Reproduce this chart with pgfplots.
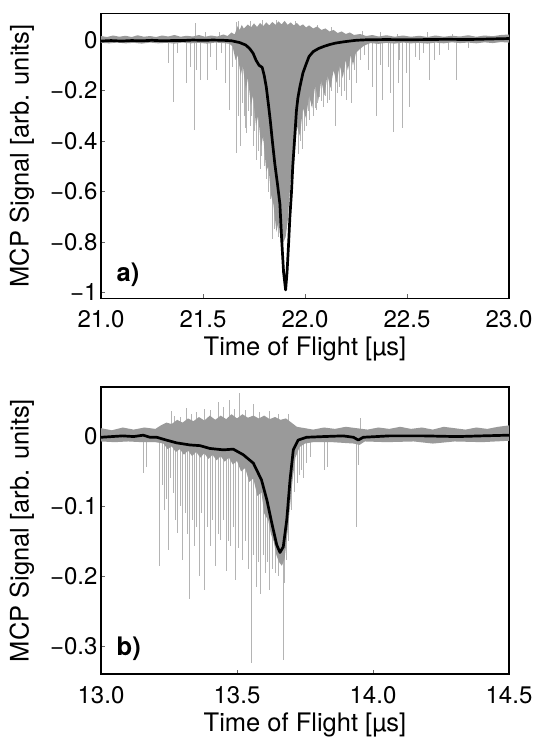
\documentclass[border=0pt]{standalone}
\usepackage{fontspec}
\setmainfont{TeX Gyre Heros}
\usepackage{pgfplots}
\pgfplotsset{compat=1.18}
\definecolor{fillgray}{HTML}{9A9A9A}
\definecolor{spikegray}{HTML}{B4B4B4}
\pgfplotsset{
  tofstyle/.style={
    scale only axis, width=408pt,
    axis line style={line width=1.5pt},
    tick align=inside, tick pos=left, major tick length=4pt,
    tick style={line width=0.4pt, color=black!60},
    ticklabel style={font=\fontsize{24}{28}\selectfont},
    label style={font=\fontsize{25.5}{30}\selectfont},
    xticklabel style={anchor=base, yshift=-29pt},
    ylabel style={at={(axis description cs:-0.194,0.5)}, anchor=center},
    xlabel style={at={(axis description cs:0.5,0)}, anchor=base, yshift=-57pt},
    clip=true,
  },
  spikes/.style={ycomb, no marks, color=spikegray, line width=0.5pt},
  envelope/.style={fill=fillgray, draw=none, no marks},
  mean/.style={black, line width=2.7pt, no marks, line join=round},
}
\begin{document}
\begin{tikzpicture}[x=1pt,y=1pt]
\useasboundingbox (0,0) rectangle (538,738);
% ---------------- panel a ----------------
\begin{axis}[tofstyle, at={(101pt,439.7pt)}, anchor=south west, height=285pt,
  xmin=21, xmax=23, ymin=-1.023, ymax=0.106,
  xtick={21,21.5,22,22.5,23}, xticklabels={21.0,21.5,22.0,22.5,23.0},
  ytick={-1,-0.8,-0.6,-0.4,-0.2,0}, yticklabels={−1,−0.8,−0.6,−0.4,−0.2,0},
  xlabel={Time of Flight [µs]}, ylabel={MCP Signal [arb. units]}]
\addplot[spikes] coordinates {
(21.33,-0.092)(21.354,-0.244)(21.374,-0.053)(21.42,-0.17)(21.436,-0.105)(21.455,-0.356)
(21.469,-0.119)(21.485,-0.158)(21.52,-0.158)(21.534,-0.066)(21.567,-0.119)(21.59,-0.053)
(21.607,-0.17)(21.628,-0.277)(21.645,-0.105)(21.664,-0.449)(21.672,-0.30)(21.684,-0.42)(21.692,-0.25)(21.70,-0.30)
(21.706,-0.35)(21.713,-0.37)(21.72,-0.28)(21.73,-0.34)(21.738,-0.30)(21.746,-0.42)(21.753,-0.36)(21.76,-0.475)
(21.77,-0.44)(21.78,-0.51)(21.787,-0.46)(21.795,-0.40)(21.802,-0.50)
(21.81,-0.55)(21.82,-0.60)(21.83,-0.63)(21.84,-0.79)(21.85,-0.75)(21.86,-0.72)(21.87,-0.78)(21.965,-0.45)(21.975,-0.40)(21.985,-0.43)
(21.995,-0.36)(22.007,-0.34)(22.015,-0.28)(22.023,-0.317)(22.03,-0.26)(22.04,-0.30)(22.048,-0.27)(22.056,-0.277)(22.06,-0.25)
(22.07,-0.224)(22.08,-0.24)(22.09,-0.264)(22.10,-0.22)(22.11,-0.25)(22.12,-0.237)(22.13,-0.20)(22.146,-0.34)(22.16,-0.21)
(22.17,-0.185)(22.18,-0.22)(22.19,-0.20)(22.203,-0.237)(22.215,-0.16)(22.228,-0.25)(22.24,-0.12)(22.25,-0.17)
(22.27,-0.08)(22.29,-0.06)(22.31,-0.12)(22.33,-0.185)(22.35,-0.30)(22.37,-0.10)(22.38,-0.237)
(22.41,-0.105)(22.42,-0.21)(22.435,-0.363)(22.456,-0.17)(22.46,-0.08)(22.477,-0.35)(22.497,-0.132)
(22.513,-0.264)(22.538,-0.066)(22.562,-0.08)(22.58,-0.05)(22.61,-0.158)(22.636,-0.08)(22.66,-0.06)
(22.70,-0.04)(22.74,-0.158)(22.80,-0.03)
(21.46,0.066)(21.51,0.03)(21.58,0.03)(21.665,0.07)(21.675,0.075)(21.73,0.075)(21.79,0.078)
(21.86,0.08)(21.95,0.075)(22.06,0.06)(22.13,0.05)(22.28,0.035)(22.37,0.03)(22.45,0.025)
(22.60,0.03)(22.72,0.025)
};
\addplot[envelope] coordinates {
(21.00,0.016)(21.03,0.012)(21.06,0.018)(21.09,0.013)(21.12,0.017)(21.15,0.012)(21.18,0.019)
(21.21,0.013)(21.24,0.016)(21.27,0.012)(21.30,0.018)(21.33,0.014)(21.36,0.020)(21.39,0.013)
(21.42,0.017)(21.45,0.014)(21.48,0.020)(21.51,0.013)(21.54,0.018)(21.57,0.014)(21.60,0.022)
(21.62,0.016)(21.64,0.030)(21.655,0.022)(21.67,0.055)(21.68,0.040)(21.69,0.060)(21.70,0.045)
(21.72,0.062)(21.735,0.050)(21.75,0.066)(21.765,0.052)(21.78,0.068)(21.795,0.055)(21.81,0.070)
(21.825,0.058)(21.84,0.072)(21.855,0.060)(21.87,0.074)(21.885,0.062)(21.90,0.076)(21.915,0.060)
(21.93,0.070)(21.945,0.058)(21.96,0.068)(21.975,0.055)(21.99,0.062)(22.005,0.050)(22.02,0.058)
(22.04,0.046)(22.06,0.054)(22.08,0.040)(22.10,0.046)(22.12,0.034)(22.14,0.040)(22.16,0.028)
(22.18,0.034)(22.20,0.024)(22.22,0.030)(22.24,0.020)(22.27,0.024)(22.30,0.016)(22.33,0.020)
(22.36,0.014)(22.40,0.019)(22.44,0.013)(22.48,0.018)(22.52,0.013)(22.56,0.017)(22.60,0.012)
(22.64,0.018)(22.68,0.013)(22.72,0.017)(22.76,0.014)(22.80,0.019)(22.84,0.013)(22.88,0.018)
(22.92,0.015)(22.96,0.020)(23.00,0.022)
(23.00,-0.010)(22.96,-0.008)(22.92,-0.012)(22.88,-0.009)(22.84,-0.013)(22.80,-0.010)(22.76,-0.012)
(22.72,-0.009)(22.68,-0.013)(22.64,-0.010)(22.60,-0.014)(22.56,-0.011)(22.52,-0.013)(22.48,-0.010)
(22.44,-0.014)(22.40,-0.011)(22.36,-0.015)(22.32,-0.012)(22.29,-0.022)(22.27,-0.035)(22.25,-0.05)
(22.235,-0.10)(22.225,-0.06)(22.21,-0.12)(22.20,-0.08)(22.185,-0.15)(22.17,-0.10)(22.155,-0.17)
(22.14,-0.12)(22.125,-0.19)(22.11,-0.14)(22.095,-0.22)(22.08,-0.16)(22.065,-0.24)(22.05,-0.18)
(22.035,-0.27)(22.02,-0.22)(22.005,-0.31)(21.99,-0.27)(21.975,-0.38)(21.96,-0.34)(21.945,-0.50)
(21.93,-0.55)(21.915,-0.72)(21.905,-0.78)(21.895,-0.80)(21.885,-0.82)(21.87,-0.72)(21.86,-0.76)
(21.845,-0.65)(21.835,-0.62)(21.82,-0.50)(21.81,-0.52)(21.795,-0.38)(21.785,-0.42)(21.77,-0.30)
(21.76,-0.34)(21.745,-0.22)(21.735,-0.26)(21.72,-0.15)(21.71,-0.20)(21.695,-0.10)(21.685,-0.14)
(21.67,-0.06)(21.66,-0.08)(21.645,-0.025)(21.63,-0.015)(21.60,-0.012)(21.56,-0.010)(21.52,-0.014)
(21.48,-0.011)(21.44,-0.013)(21.40,-0.010)(21.36,-0.014)(21.32,-0.011)(21.28,-0.013)(21.24,-0.010)
(21.20,-0.014)(21.16,-0.011)(21.12,-0.013)(21.08,-0.010)(21.04,-0.013)(21.00,-0.011)
} -- cycle;
\addplot[mean] coordinates {
(21.00,-0.004)(21.05,-0.002)(21.10,-0.004)(21.15,-0.002)(21.20,-0.003)(21.25,-0.001)(21.30,-0.003)
(21.35,-0.002)(21.40,-0.002)(21.45,0.000)(21.50,-0.001)(21.55,0.000)(21.60,-0.001)(21.64,-0.003)
(21.68,-0.010)(21.71,-0.020)(21.73,-0.035)(21.746,-0.053)(21.76,-0.080)(21.775,-0.100)(21.79,-0.108)
(21.80,-0.14)(21.81,-0.185)(21.82,-0.25)(21.83,-0.32)(21.84,-0.40)(21.852,-0.49)(21.865,-0.57)
(21.877,-0.65)(21.885,-0.78)(21.895,-0.92)(21.905,-0.99)(21.912,-0.92)(21.92,-0.80)(21.926,-0.70)
(21.934,-0.60)(21.94,-0.50)(21.95,-0.38)(21.958,-0.28)(21.965,-0.23)(21.975,-0.185)(21.99,-0.13)
(22.007,-0.092)(22.02,-0.065)(22.04,-0.046)(22.065,-0.034)(22.09,-0.026)(22.12,-0.018)(22.15,-0.012)
(22.19,-0.007)(22.25,-0.001)(22.30,0.001)(22.40,0.002)(22.50,0.001)(22.60,0.002)(22.70,0.003)
(22.80,0.002)(22.90,0.004)(23.00,0.006)
};
\node[anchor=base west, inner sep=0, font=\bfseries\fontsize{25.5}{30}\selectfont] at (rel axis cs:0.038,0.058) {a)};
\end{axis}
% ---------------- panel b ----------------
\begin{axis}[tofstyle, at={(101pt,64pt)}, anchor=south west, height=287pt,
  xmin=13, xmax=14.5, ymin=-0.34, ymax=0.071,
  xtick={13,13.5,14,14.5}, xticklabels={13.0,13.5,14.0,14.5},
  ytick={-0.3,-0.2,-0.1,0}, yticklabels={−0.3,−0.2,−0.1,0},
  xlabel={Time of Flight [µs]}, ylabel={MCP Signal [arb. units]}]
\addplot[spikes] coordinates {
(13.155,-0.052)(13.167,-0.043)(13.215,-0.186)(13.225,-0.07)(13.233,-0.105)(13.24,-0.09)(13.248,-0.162)
(13.255,-0.06)(13.265,-0.081)(13.272,-0.12)(13.28,-0.138)(13.29,-0.10)(13.30,-0.177)(13.31,-0.11)
(13.318,-0.14)(13.325,-0.232)(13.335,-0.12)(13.343,-0.157)(13.352,-0.13)(13.36,-0.20)(13.37,-0.11)
(13.38,-0.22)(13.39,-0.13)(13.40,-0.157)(13.41,-0.12)(13.42,-0.186)(13.43,-0.14)(13.44,-0.148)
(13.45,-0.12)(13.46,-0.193)(13.468,-0.15)(13.475,-0.157)(13.485,-0.13)(13.495,-0.205)(13.505,-0.16)
(13.52,-0.177)(13.53,-0.15)(13.54,-0.19)(13.554,-0.324)(13.56,-0.17)(13.57,-0.215)(13.578,-0.18)
(13.585,-0.225)(13.595,-0.17)(13.605,-0.196)(13.612,-0.18)(13.62,-0.22)(13.63,-0.19)(13.64,-0.196)
(13.65,-0.20)(13.67,-0.32)(13.675,-0.21)(13.68,-0.177)(13.69,-0.15)(13.70,-0.105)(13.71,-0.08)
(13.72,-0.067)(13.73,-0.055)(13.738,-0.048)(13.745,-0.06)(13.756,-0.038)(13.77,-0.029)(13.82,-0.048)
(13.83,-0.043)(13.94,-0.129)(13.945,-0.04)
(13.257,0.036)(13.27,0.03)(13.29,0.028)(13.315,0.041)(13.33,0.032)(13.35,0.035)(13.38,0.04)
(13.40,0.038)(13.43,0.05)(13.45,0.042)(13.47,0.053)(13.49,0.04)(13.51,0.062)(13.53,0.038)
(13.56,0.047)(13.58,0.035)(13.59,0.026)(13.62,0.036)(13.65,0.033)(13.69,0.033)(13.952,0.026)
};
\addplot[envelope] coordinates {
(13.00,0.012)(13.04,0.009)(13.08,0.013)(13.12,0.010)(13.16,0.013)(13.20,0.011)(13.22,0.016)
(13.24,0.020)(13.26,0.018)(13.28,0.024)(13.30,0.020)(13.32,0.026)(13.34,0.022)(13.36,0.028)
(13.38,0.023)(13.40,0.030)(13.42,0.024)(13.44,0.030)(13.46,0.025)(13.48,0.032)(13.50,0.026)
(13.52,0.032)(13.54,0.027)(13.56,0.030)(13.58,0.026)(13.60,0.030)(13.62,0.025)(13.64,0.028)
(13.66,0.024)(13.68,0.026)(13.70,0.020)(13.72,0.014)(13.75,0.012)(13.78,0.010)(13.82,0.013)
(13.86,0.011)(13.90,0.014)(13.94,0.012)(13.98,0.010)(14.02,0.013)(14.06,0.011)(14.10,0.014)
(14.14,0.011)(14.18,0.013)(14.22,0.010)(14.26,0.014)(14.30,0.012)(14.34,0.010)(14.38,0.013)
(14.42,0.011)(14.46,0.014)(14.50,0.016)
(14.50,-0.006)(14.40,-0.008)(14.30,-0.007)(14.22,-0.010)(14.15,-0.007)(14.05,-0.008)(13.97,-0.007)
(13.95,-0.012)(13.93,-0.010)(13.85,-0.008)(13.78,-0.008)(13.75,-0.010)(13.73,-0.015)(13.715,-0.030)
(13.705,-0.06)(13.695,-0.10)(13.685,-0.14)(13.675,-0.175)(13.665,-0.185)(13.655,-0.18)(13.645,-0.17)
(13.635,-0.15)(13.625,-0.14)(13.615,-0.12)(13.60,-0.11)(13.59,-0.08)(13.575,-0.085)(13.56,-0.06)
(13.545,-0.065)(13.53,-0.045)(13.515,-0.05)(13.50,-0.035)(13.485,-0.04)(13.47,-0.03)(13.455,-0.036)
(13.44,-0.028)(13.425,-0.034)(13.41,-0.026)(13.395,-0.032)(13.38,-0.024)(13.365,-0.03)(13.35,-0.022)
(13.335,-0.028)(13.32,-0.02)(13.305,-0.026)(13.29,-0.018)(13.275,-0.022)(13.26,-0.014)(13.245,-0.018)
(13.23,-0.010)(13.20,-0.008)(13.15,-0.008)(13.10,-0.007)(13.05,-0.008)(13.00,-0.007)
} -- cycle;
\addplot[mean] coordinates {
(13.00,-0.001)(13.04,0.000)(13.08,0.001)(13.12,0.000)(13.155,0.002)(13.18,-0.001)(13.205,-0.001)
(13.24,-0.005)(13.278,-0.009)(13.327,-0.012)(13.364,-0.013)(13.40,-0.017)(13.45,-0.019)(13.486,-0.018)
(13.523,-0.026)(13.56,-0.038)(13.59,-0.062)(13.61,-0.091)(13.628,-0.124)(13.646,-0.155)(13.658,-0.166)
(13.67,-0.158)(13.683,-0.119)(13.695,-0.062)(13.707,-0.019)(13.725,-0.005)(13.756,-0.001)(13.817,0.000)
(13.89,0.001)(13.928,-0.001)(13.946,-0.005)(13.964,-0.001)(14.06,0.001)(14.185,0.001)(14.31,0.000)
(14.40,0.001)(14.50,0.002)
};
\node[anchor=base west, inner sep=0, font=\bfseries\fontsize{25.5}{30}\selectfont] at (rel axis cs:0.038,0.066) {b)};
\end{axis}
\end{tikzpicture}
\end{document}
